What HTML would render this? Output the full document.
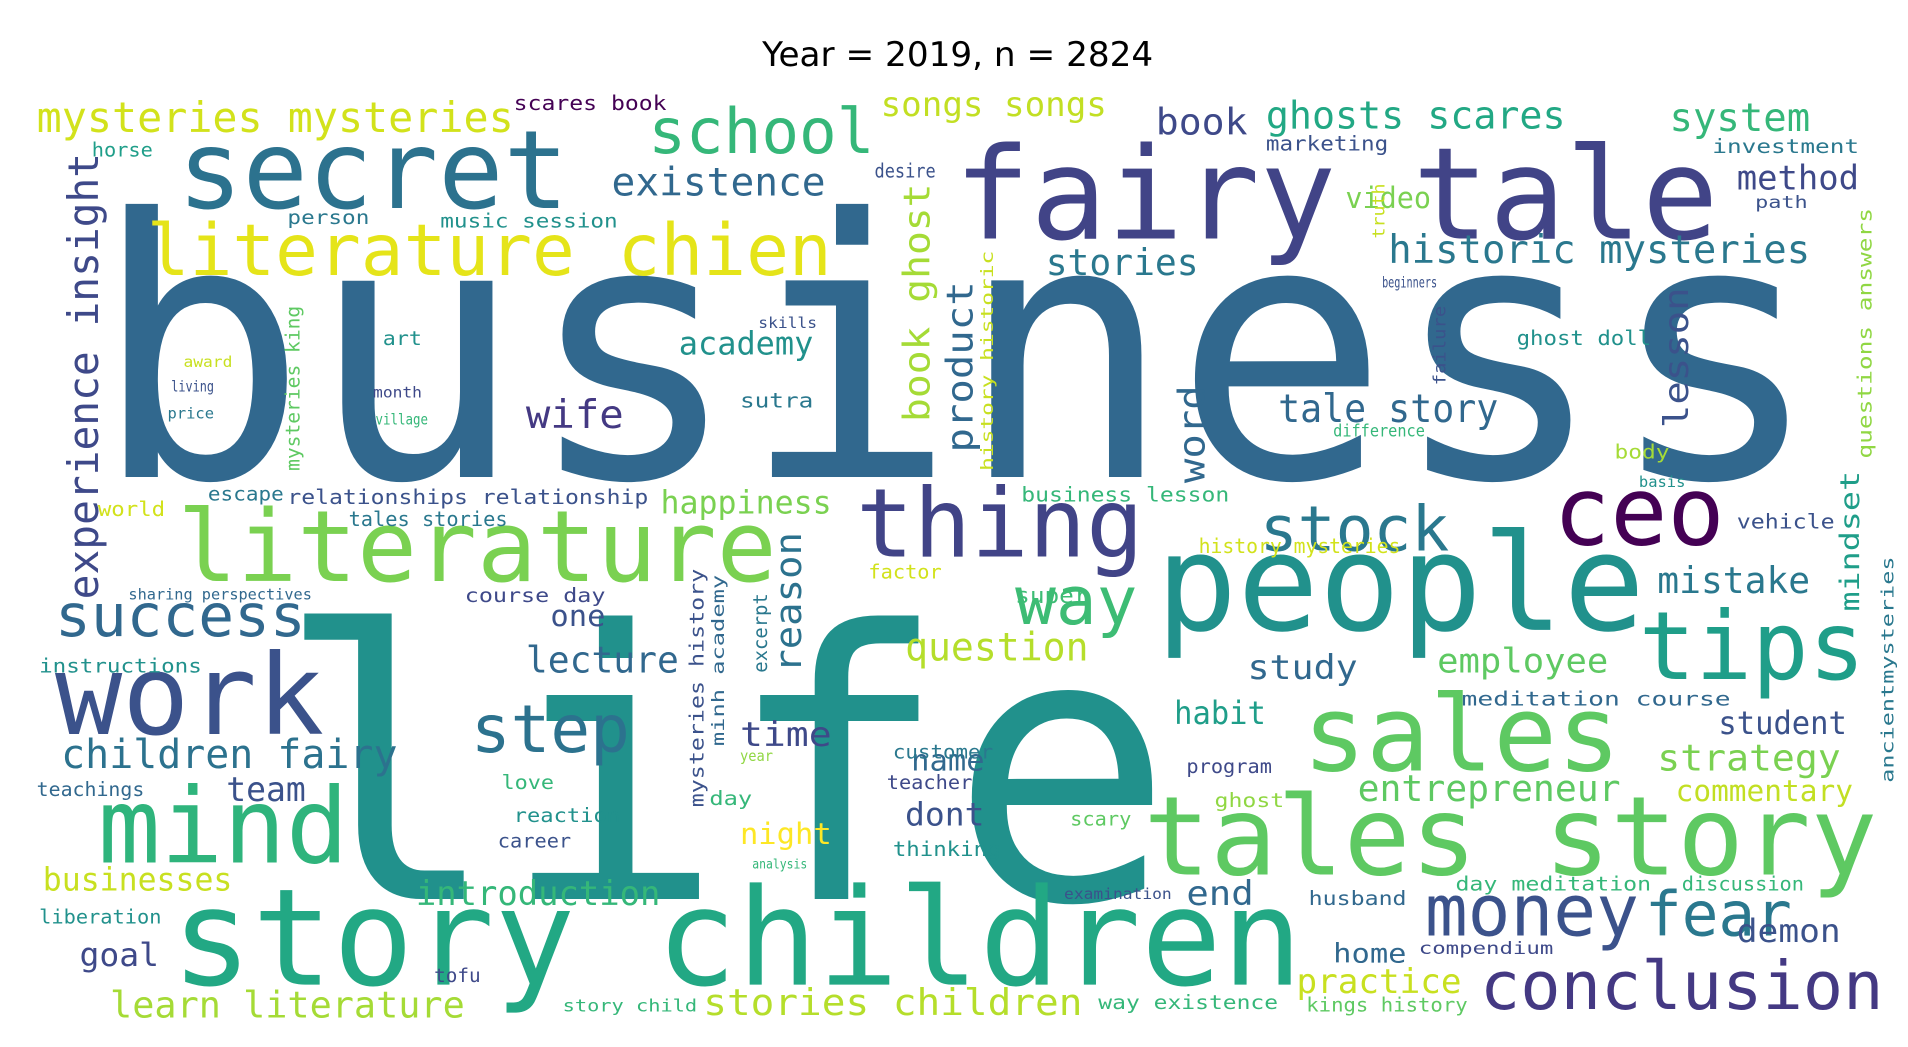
<!DOCTYPE html>
<html>
<head>
<meta charset="utf-8">
<style>
  html, body { margin: 0; padding: 0; background: #ffffff; }
  body { width: 1908px; height: 1047px; overflow: hidden; }
  svg { display: block; }
  .w { font-family: "DejaVu Sans Mono", "Liberation Mono", monospace; }
</style>
</head>
<body>
<svg id="cloud" width="1908" height="1047" viewBox="0 0 1560 856" xmlns="http://www.w3.org/2000/svg">
  <rect x="0" y="0" width="1560" height="856" fill="#ffffff"></rect>
  <text x="783" y="54" text-anchor="middle" font-family="DejaVu Sans, Liberation Sans, sans-serif" font-size="28" fill="#000">Year = 2019, n = 2824</text>
  <g id="words"></g>
</svg>
<script>
// word, x, baselineY, length, fontSize, color, rotated(1 = vertical)
const words = [
 ["business",75,390,1415,294,"#31688e",0],
 ["life",225,735,735,305,"#21918c",0],
 ["fairy tale",780,195,625,104,"#414487",0],
 ["secret",145,170,320,89,"#2c728e",0],
 ["people",945,515,400,110,"#21918c",0],
 ["story children",140,805,925,110,"#22a884",0],
 ["tales story",935,715,600,90,"#5ec962",0],
 ["literature",145,475,490,81,"#7ad151",0],
 ["literature chien",120,225,560,58,"#e5e419",0],
 ["work",45,600,220,91,"#3b528b",0],
 ["mind",80,705,205,85,"#2fb47c",0],
 ["sales",1065,630,260,86,"#5ec962",0],
 ["thing",700,455,235,78,"#414487",0],
 ["tips",1340,555,185,77,"#1f9e89",0],
 ["ceo",1270,445,140,78,"#440154",0],
 ["school",530,125,185,51,"#35b779",0],
 ["stock",1030,450,155,51,"#2a788e",0],
 ["step",385,615,130,54,"#2c728e",0],
 ["success",45,520,205,48,"#31688e",0],
 ["way",830,510,100,55,"#3dbc74",0],
 ["money",1165,765,175,58,"#3b528b",0],
 ["fear",1345,765,120,50,"#2a788e",0],
 ["conclusion",1210,825,330,55,"#443983",0],
 ["children fairy",50,628,275,33,"#2c728e",0],
 ["mysteries mysteries",30,108,390,34,"#d2e21b",0],
 ["songs songs",720,95,185,28,"#c2df23",0],
 ["ghosts scares",1035,105,245,31,"#22a884",0],
 ["system",1365,107,115,32,"#35b779",0],
 ["book",945,110,75,30,"#3e4989",0],
 ["existence",500,160,175,32,"#31688e",0],
 ["historic mysteries",1135,215,345,32,"#2a788e",0],
 ["stories",855,225,125,30,"#2a788e",0],
 ["method",1420,155,100,28,"#3e4989",0],
 ["video",1100,170,70,24,"#7ad151",0],
 ["academy",555,290,110,26,"#21918c",0],
 ["wife",430,350,80,32,"#443983",0],
 ["tale story",1045,345,180,32,"#31688e",0],
 ["happiness",540,420,140,26,"#7ad151",0],
 ["mistake",1355,485,125,30,"#2a788e",0],
 ["question",740,540,150,32,"#b5de2b",0],
 ["lecture",430,550,125,30,"#31688e",0],
 ["one",450,512,45,24,"#3b528b",0],
 ["study",1020,555,90,28,"#31688e",0],
 ["employee",1175,550,140,28,"#5ec962",0],
 ["time",605,610,75,28,"#3e4989",0],
 ["habit",960,592,75,26,"#1f9e89",0],
 ["student",1405,600,105,26,"#3b528b",0],
 ["name",745,630,60,24,"#31688e",0],
 ["team",185,655,65,28,"#3b528b",0],
 ["strategy",1355,630,150,30,"#7ad151",0],
 ["entrepreneur",1110,655,215,30,"#5ec962",0],
 ["commentary",1370,655,145,24,"#c2df23",0],
 ["dont",740,675,65,26,"#3b528b",0],
 ["night",605,690,75,24,"#fde725",0],
 ["introduction",340,740,200,28,"#35b779",0],
 ["end",970,740,55,28,"#31688e",0],
 ["businesses",35,728,155,26,"#c8e020",0],
 ["goal",65,790,65,26,"#3e4989",0],
 ["learn literature",90,832,290,30,"#a5db36",0],
 ["stories children",575,830,310,30,"#b5de2b",0],
 ["practice",1060,812,135,28,"#c8e020",0],
 ["demon",1420,770,85,26,"#3b528b",0],
 ["home",1090,787,60,22,"#31688e",0],
 ["scares book",420,90,125,17,"#440154",0],
 ["horse",75,128,50,16,"#1f9e89",0],
 ["desire",715,145,50,16,"#3b528b",0],
 ["marketing",1035,123,100,17,"#3b528b",0],
 ["investment",1400,125,120,16,"#2a788e",0],
 ["relationships relationship",235,412,295,17,"#3b528b",0],
 ["tales stories",285,430,130,17,"#2a788e",0],
 ["world",80,422,55,17,"#d2e21b",0],
 ["escape",170,409,62,16,"#2a788e",0],
 ["business lesson",835,410,170,17,"#35b779",0],
 ["history mysteries",980,452,165,17,"#d2e21b",0],
 ["vehicle",1420,432,80,17,"#3b528b",0],
 ["super",830,493,60,18,"#3dbc74",0],
 ["factor",710,473,60,16,"#d2e21b",0],
 ["course day",380,492,115,16,"#3e4989",0],
 ["sharing perspectives",105,490,150,12,"#31688e",0],
 ["instructions",32,550,133,16,"#21918c",0],
 ["meditation course",1195,577,220,16,"#31688e",0],
 ["customer",730,620,82,16,"#2a788e",0],
 ["teacher",725,645,70,16,"#3e4989",0],
 ["teachings",30,651,88,16,"#31688e",0],
 ["program",970,632,70,16,"#3e4989",0],
 ["love",410,645,43,16,"#35b779",0],
 ["reaction",420,672,87,16,"#21918c",0],
 ["career",407,693,60,16,"#3b528b",0],
 ["thinking",730,700,88,17,"#21918c",0],
 ["ghost",993,660,57,16,"#90d743",0],
 ["scary",875,675,50,16,"#5ec962",0],
 ["day meditation",1190,728,160,16,"#35b779",0],
 ["discussion",1375,728,100,16,"#35b779",0],
 ["husband",1070,740,80,16,"#31688e",0],
 ["compendium",1160,780,110,14,"#3e4989",0],
 ["liberation",32,755,100,16,"#21918c",0],
 ["tofu",355,803,38,15,"#3e4989",0],
 ["way existence",898,825,147,16,"#35b779",0],
 ["kings history",1068,827,132,16,"#5ec962",0],
 ["story child",460,827,110,14,"#35b779",0],
 ["day",580,658,35,16,"#35b779",0],
 ["music session",360,186,145,16,"#21918c",0],
 ["person",235,183,67,16,"#2a788e",0],
 ["art",313,282,32,16,"#21918c",0],
 ["month",305,325,40,12,"#3e4989",0],
 ["village",307,347,43,12,"#35b779",0],
 ["sutra",605,333,60,17,"#2a788e",0],
 ["living",140,320,35,12,"#3b528b",0],
 ["award",150,300,40,12,"#c8e020",0],
 ["price",137,342,38,12,"#2a788e",0],
 ["ghost doll",1240,282,110,17,"#21918c",0],
 ["difference",1090,357,75,14,"#35b779",0],
 ["body",1320,375,45,16,"#a5db36",0],
 ["skills",620,268,48,12,"#3b528b",0],
 ["beginners",1130,235,45,12,"#3b528b",0],
 ["basis",1340,398,38,12,"#21918c",0],
 ["path",1435,170,43,14,"#3b528b",0],
 ["year",605,622,27,12,"#90d743",0],
 ["examination",870,735,88,12,"#3b528b",0],
 ["analysis",615,710,45,11,"#35b779",0],
 ["experience insight",80,490,365,34,"#3e4989",1],
 ["book ghost",760,345,195,30,"#a5db36",1],
 ["product",795,370,140,30,"#31688e",1],
 ["word",985,395,80,30,"#31688e",1],
 ["lesson",1380,350,115,28,"#3b528b",1],
 ["reason",655,550,115,30,"#2c728e",1],
 ["mindset",1520,500,115,22,"#1f9e89",1],
 ["mysteries king",245,385,135,16,"#5ec962",1],
 ["history historic",812,385,180,14,"#c8e020",1],
 ["mysteries history",575,660,195,16,"#3b528b",1],
 ["minh academy",592,610,140,14,"#31688e",1],
 ["excerpt",627,550,65,16,"#2a788e",1],
 ["questions answers",1530,375,205,16,"#90d743",1],
 ["ancientmysteries",1548,640,185,14,"#2a788e",1],
 ["truth",1132,195,45,14,"#c8e020",1],
 ["failure",1182,315,65,14,"#3b528b",1]
];

const g = document.getElementById('words');
const NS = 'http://www.w3.org/2000/svg';
words.forEach(function (w) {
  const t = document.createElementNS(NS, 'text');
  t.setAttribute('class', 'w');
  t.setAttribute('font-size', w[4]);
  t.setAttribute('fill', w[5]);
  t.setAttribute('textLength', w[3]);
  t.setAttribute('lengthAdjust', 'spacingAndGlyphs');
  if (w[6]) {
    t.setAttribute('x', 0);
    t.setAttribute('y', 0);
    t.setAttribute('transform', 'translate(' + w[1] + ',' + w[2] + ') rotate(-90)');
  } else {
    t.setAttribute('x', w[1]);
    t.setAttribute('y', w[2]);
  }
  t.textContent = w[0];
  
  
  g.appendChild(t);
});
</script>
</body>
</html>
